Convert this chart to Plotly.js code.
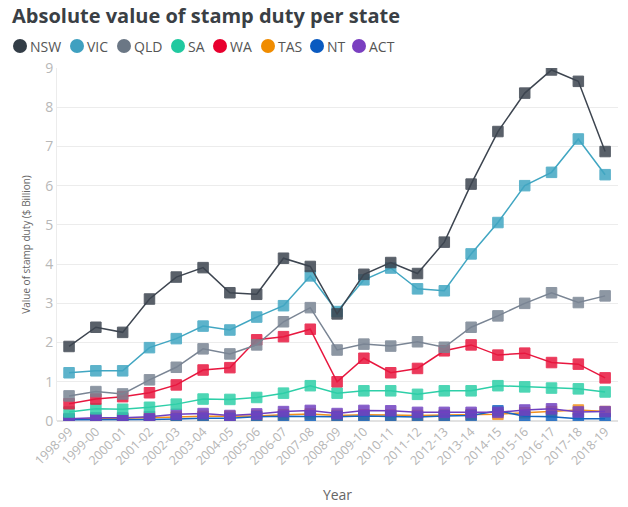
<!DOCTYPE html>
<html>
<head>
<meta charset="utf-8">
<script src="https://cdn.plot.ly/plotly-3.0.1.min.js"></script>
<style>html,body{margin:0;padding:0;background:#fff;}#chart{width:628px;height:507px;}</style>
</head>
<body>
<div id="chart"></div>
<script>
const years = ["1998-99","1999-00","2000-01","2001-02","2002-03","2003-04","2004-05","2005-06","2006-07","2007-08","2008-09","2009-10","2010-11","2011-12","2012-13","2013-14","2014-15","2015-16","2016-17","2017-18","2018-19"];
const nsw = [1.90,2.39,2.26,3.11,3.67,3.91,3.27,3.23,4.15,3.94,2.73,3.74,4.04,3.76,4.56,6.04,7.38,8.36,8.95,8.66,6.87];
const vic = [1.23,1.28,1.28,1.87,2.10,2.42,2.32,2.65,2.94,3.70,2.79,3.60,3.90,3.37,3.32,4.26,5.06,6.00,6.34,7.19,6.28];
const qld = [0.64,0.75,0.69,1.05,1.37,1.84,1.71,1.94,2.53,2.89,1.81,1.96,1.91,2.02,1.88,2.39,2.68,3.00,3.27,3.02,3.19];
const sa  = [0.23,0.31,0.30,0.35,0.43,0.56,0.55,0.60,0.71,0.90,0.71,0.77,0.77,0.68,0.77,0.77,0.90,0.87,0.84,0.82,0.74];
const wa  = [0.44,0.56,0.62,0.72,0.92,1.30,1.36,2.07,2.15,2.34,1.00,1.60,1.23,1.34,1.79,1.94,1.68,1.73,1.49,1.45,1.10];
const tas = [0.05,0.06,0.06,0.08,0.10,0.12,0.12,0.13,0.16,0.18,0.14,0.16,0.15,0.14,0.15,0.16,0.17,0.21,0.24,0.28,0.24];
const nt  = [0.03,0.03,0.03,0.04,0.05,0.07,0.07,0.11,0.12,0.12,0.11,0.13,0.11,0.10,0.13,0.14,0.26,0.12,0.11,0.06,0.06];
const act = [0.06,0.08,0.08,0.11,0.17,0.19,0.14,0.18,0.24,0.27,0.19,0.27,0.26,0.22,0.22,0.22,0.22,0.28,0.31,0.23,0.24];

const names = ["NSW","VIC","QLD","SA","WA","TAS","NT","ACT"];
const values = [nsw,vic,qld,sa,wa,tas,nt,act];
const lineColors = ["#3d4550","#41a6c2","#7a8594","#2ecfa8","#e8173f","#f28f1c","#1565c0","#7040c0"];
const legendColors = ["#333d47","#3fa0c0","#6b7785","#21c9a0","#e8002e","#f08c00","#0a5ac0","#7a3fc0"];

// plot area geometry (px) used to place the legend row
const M = {l: 57, r: 10, t: 68, b: 86};
const W = 628, H = 507;
const plotW = W - M.l - M.r, plotH = H - M.t - M.b;
const legendCx = [20, 77, 124, 178, 220, 268, 317, 359];
const legendCy = 46;
const px2x = px => (px - M.l) / plotW;
const py2y = py => (H - M.b - py) / plotH;

const traces = [];
const order = [5,6,7,3,4,2,1,0];
order.forEach(i => {
  traces.push({
    x: years, y: values[i], name: names[i], type: 'scatter', mode: 'lines+markers',
    showlegend: false,
    line: {color: lineColors[i], width: 1.5},
    marker: {symbol: 'square', size: 10.5, color: lineColors[i], opacity: 0.85,
             line: {color: lineColors[i], width: 1}}
  });
});

const shapes = [], annotations = [];
names.forEach((n, i) => {
  shapes.push({
    type: 'circle', xref: 'paper', yref: 'paper', xsizemode: 'pixel', ysizemode: 'pixel',
    xanchor: px2x(legendCx[i]), yanchor: py2y(legendCy),
    x0: -7, x1: 7, y0: -7, y1: 7,
    fillcolor: legendColors[i], line: {width: 0}
  });
  annotations.push({
    text: n, xref: 'paper', yref: 'paper', x: px2x(legendCx[i] + 8), y: py2y(legendCy),
    xanchor: 'left', yanchor: 'middle', showarrow: false,
    font: {family: 'Open Sans, sans-serif', size: 14, color: '#555'}
  });
});

const layout = {
  width: W, height: H,
  paper_bgcolor: '#fff', plot_bgcolor: '#fff',
  font: {family: 'Open Sans, sans-serif', color: '#444'},
  margin: M,
  showlegend: false,
  shapes: shapes, annotations: annotations,
  title: {text: '<b>Absolute value of stamp duty per state</b>', x: 12/628, xref: 'container', xanchor: 'left',
          y: 1 - 16/507, yref: 'container', yanchor: 'middle',
          font: {family: 'Open Sans, sans-serif', size: 20, color: '#3a3f45'}},
  xaxis: {
    type: 'category', range: [-0.45, 20.48], tickangle: -45,
    tickfont: {size: 12.5, color: '#b5b5b5'}, showgrid: false, showline: false, zeroline: false, ticks: '',
    title: {text: 'Year', font: {size: 14, color: '#666'}, standoff: 22}
  },
  yaxis: {
    range: [0, 9], dtick: 1, tickfont: {size: 14, color: '#b8b8b8'},
    gridcolor: '#ececec', gridwidth: 1, zeroline: true, zerolinecolor: '#e2e2e2', zerolinewidth: 2,
    showline: true, linecolor: '#ececec', linewidth: 1, ticks: '', ticklen: 0,
    title: {text: 'Value of stamp duty ($ Billion)', font: {size: 10, color: '#666'}, standoff: 12}
  }
};

Plotly.newPlot('chart', traces, layout, {displayModeBar: false, staticPlot: true});
</script>
</body>
</html>
